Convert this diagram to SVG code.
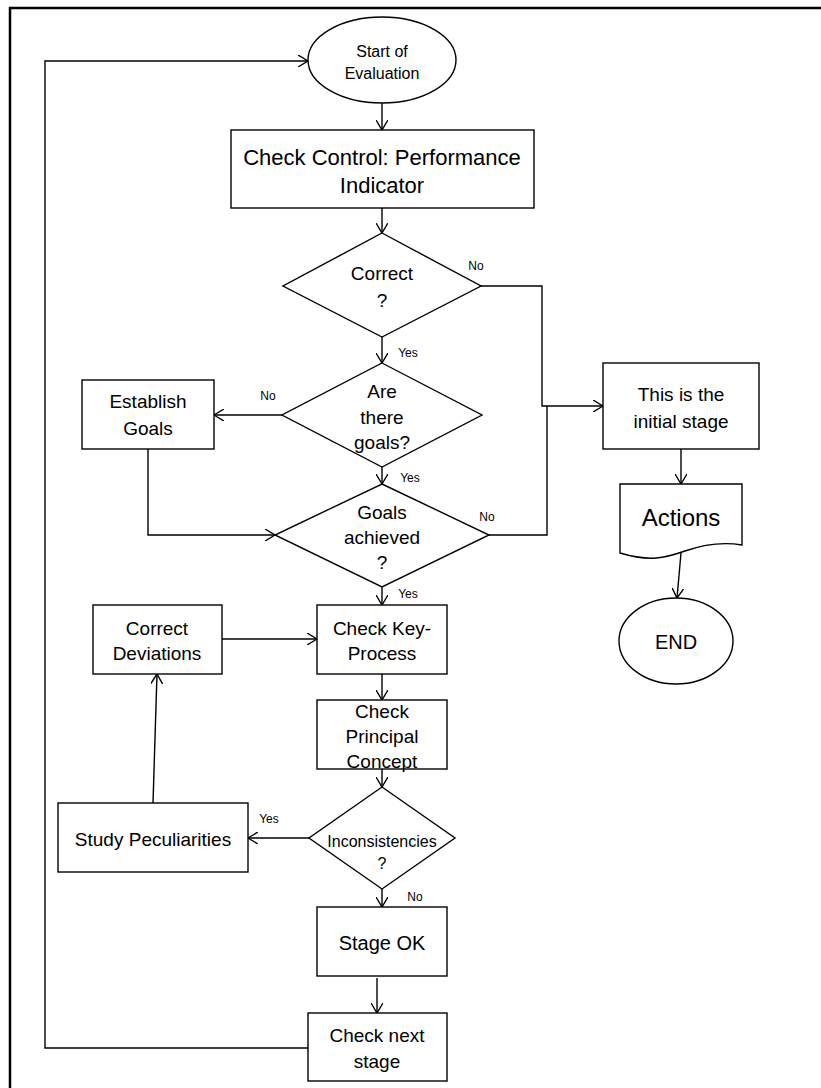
<svg xmlns="http://www.w3.org/2000/svg" width="821" height="1088" viewBox="0 0 821 1088">
<style>
.s{fill:#fff;stroke:#000;stroke-width:1.4}
.c{fill:none;stroke:#000;stroke-width:1.4}
text{font-family:"Liberation Sans",Arial,sans-serif;fill:#000;text-anchor:middle;dominant-baseline:central}
.t19{font-size:19px}
.lb{font-size:12px}
</style>
<defs>
<marker id="a" viewBox="0 0 10 12" refX="10" refY="6" markerWidth="10" markerHeight="12" markerUnits="userSpaceOnUse" orient="auto">
<path d="M0,0 L10,6 L0,12" fill="none" stroke="#000" stroke-width="1.4"/>
</marker>
</defs>
<rect width="821" height="1088" fill="#fff"/>
<path d="M10,1088 V8 H821" fill="none" stroke="#000" stroke-width="2.5"/>

<g id="connectors">
<path class="c" d="M382,103 V130" marker-end="url(#a)"/>
<path class="c" d="M382,208 V233" marker-end="url(#a)"/>
<path class="c" d="M481,286 H542 V406 H603" marker-end="url(#a)"/>
<path class="c" d="M382,337 V363" marker-end="url(#a)"/>
<path class="c" d="M282,415 H214" marker-end="url(#a)"/>
<path class="c" d="M148,449 V535 H275" marker-end="url(#a)"/>
<path class="c" d="M382,467 V484" marker-end="url(#a)"/>
<path class="c" d="M489,535 H547 V406"/>
<path class="c" d="M382,587 V605" marker-end="url(#a)"/>
<path class="c" d="M681,449 V484" marker-end="url(#a)"/>
<path class="c" d="M681,553 L677,598" marker-end="url(#a)"/>
<path class="c" d="M222,639 H317" marker-end="url(#a)"/>
<path class="c" d="M382,674 V700" marker-end="url(#a)"/>
<path class="c" d="M382,769 V787" marker-end="url(#a)"/>
<path class="c" d="M309,838 H248" marker-end="url(#a)"/>
<path class="c" d="M153,803 L157,674" marker-end="url(#a)"/>
<path class="c" d="M382,889 V907" marker-end="url(#a)"/>
<path class="c" d="M377,978 V1013" marker-end="url(#a)"/>
<path class="c" d="M308,1048 H45 V61 H308" marker-end="url(#a)"/>
<text class="lb" x="476" y="266">No</text>
<text class="lb" x="408" y="353">Yes</text>
<text class="lb" x="268" y="396">No</text>
<text class="lb" x="410" y="478">Yes</text>
<text class="lb" x="487" y="517">No</text>
<text class="lb" x="408" y="594">Yes</text>
<text class="lb" x="269" y="819">Yes</text>
<text class="lb" x="415" y="897">No</text>
</g>

<g id="start">
<ellipse class="s" cx="382" cy="60" rx="74" ry="43"/>
<text x="382" y="51" font-size="16">Start of</text>
<text x="382" y="73" font-size="16">Evaluation</text>
</g>
<g id="check-control">
<rect class="s" x="231" y="130" width="303" height="78"/>
<text x="382" y="157" font-size="22">Check Control: Performance</text>
<text x="382" y="185" font-size="22">Indicator</text>
</g>
<g id="correct">
<polygon class="s" points="382,233 481,286 382,337 283,286"/>
<text class="t19" x="382" y="273">Correct</text>
<text class="t19" x="382" y="300">?</text>
</g>
<g id="are-there-goals">
<polygon class="s" points="382,363 482,415 382,467 282,415"/>
<text class="t19" x="382" y="391">Are</text>
<text class="t19" x="382" y="417">there</text>
<text class="t19" x="382" y="442">goals?</text>
</g>
<g id="establish-goals">
<rect class="s" x="82" y="380" width="132" height="69"/>
<text class="t19" x="148" y="401">Establish</text>
<text class="t19" x="148" y="428">Goals</text>
</g>
<g id="goals-achieved">
<polygon class="s" points="382,484 489,535 382,587 275,535"/>
<text class="t19" x="382" y="512">Goals</text>
<text class="t19" x="382" y="537">achieved</text>
<text class="t19" x="382" y="562">?</text>
</g>
<g id="initial-stage">
<rect class="s" x="603" y="363" width="156" height="86"/>
<text class="t19" x="681" y="394">This is the</text>
<text class="t19" x="681" y="421">initial stage</text>
</g>
<g id="actions">
<path class="s" d="M620,484 H742 V545 C725,542 705,544 685,551 C665,558 650,562 620,553 Z"/>
<text x="681" y="517" font-size="24">Actions</text>
</g>
<g id="end">
<ellipse class="s" cx="676" cy="641" rx="57" ry="43"/>
<text x="676" y="642" font-size="20">END</text>
</g>
<g id="correct-deviations">
<rect class="s" x="93" y="605" width="129" height="69"/>
<text class="t19" x="157" y="628">Correct</text>
<text class="t19" x="157" y="653">Deviations</text>
</g>
<g id="check-key-process">
<rect class="s" x="317" y="605" width="130" height="69"/>
<text class="t19" x="382" y="628">Check Key-</text>
<text class="t19" x="382" y="653">Process</text>
</g>
<g id="check-principal-concept">
<rect class="s" x="317" y="700" width="130" height="69"/>
<text class="t19" x="382" y="711">Check</text>
<text class="t19" x="382" y="736">Principal</text>
<text class="t19" x="382" y="761">Concept</text>
</g>
<g id="inconsistencies">
<polygon class="s" points="382,787 455,838 382,889 309,838"/>
<text x="382" y="841" font-size="16">Inconsistencies</text>
<text x="382" y="863" font-size="16">?</text>
</g>
<g id="study-peculiarities">
<rect class="s" x="58" y="803" width="190" height="69"/>
<text class="t19" x="153" y="839">Study Peculiarities</text>
</g>
<g id="stage-ok">
<rect class="s" x="317" y="907" width="130" height="69"/>
<text x="382" y="943" font-size="20">Stage OK</text>
</g>
<g id="check-next-stage">
<rect class="s" x="308" y="1013" width="139" height="68"/>
<text class="t19" x="377" y="1035">Check next</text>
<text class="t19" x="377" y="1061">stage</text>
</g>
</svg>
